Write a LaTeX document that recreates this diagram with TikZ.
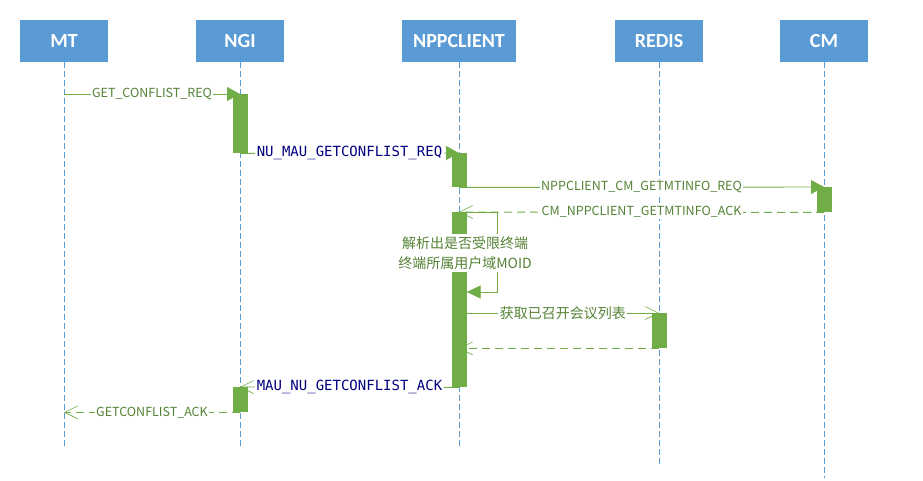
\documentclass[tikz,border=0pt]{standalone}
\usepackage{fontspec}
\usetikzlibrary{arrows.meta}
\newfontfamily\headfont{Carlito}
\newfontfamily\msgfont{Noto Sans CJK SC}
\newfontfamily\codefont{DejaVu Sans Mono}
\definecolor{headblue}{HTML}{5B9BD5}
\definecolor{bargreen}{HTML}{70AD47}
\definecolor{txtgreen}{HTML}{548235}
\definecolor{codeblue}{HTML}{000080}
\pgfdeclarelayer{back}
\pgfsetlayers{back,main}

\tikzset{
  head/.style={fill=headblue, text=white, minimum width=88pt, minimum height=42pt, inner sep=0pt,
    font=\headfont\bfseries\fontsize{20}{20}\selectfont},
  life/.style={headblue, line width=0.8pt, dash pattern=on 6pt off 3pt},
  actbar/.style={fill=bargreen, draw=none, minimum width=15pt, inner sep=0pt, anchor=north},
  msg/.style={bargreen, line width=0.9pt},
  call/.style={msg, -{Triangle[length=13pt,width=14pt]}},
  reply/.style={msg, -{Straight Barb[length=13pt,width=13pt,line width=0.6pt]}},
  ret/.style={reply, dash pattern=on 8pt off 5pt},
  lbl/.style={fill=white, inner sep=1.5pt, text=txtgreen, font=\msgfont\fontsize{12.5}{14}\selectfont},
  cjklbl/.style={lbl, font=\msgfont\fontsize{14}{20}\selectfont},
  codelbl/.style={lbl, text=codeblue, font=\codefont\fontsize{14}{16}\selectfont},
}

\begin{document}
\begin{tikzpicture}[x=1pt, y=-1pt]
  %%%%% START %%%%%
  \useasboundingbox (0,0) rectangle (923,480);

  % heads
  \node[head] (mt) at (64,41) {MT};
  \node[head] (ngi) at (240,41) {NGI};
  \node[head, minimum width=114pt] (npp) at (459,41) {NPPCLIENT};
  \node[head] (redis) at (659,41) {REDIS};
  \node[head] (cm) at (824,41) {CM};

  % activation bars
  \node[actbar, minimum height=59pt] (ngiA) at (240,94) {};
  \node[actbar, minimum height=34pt] (nppA) at (459,153) {};
  \node[actbar, minimum height=25pt] (cmA) at (824,187) {};
  \node[actbar, minimum height=175pt] (nppB) at (459,212) {};
  \node[actbar, minimum height=35pt] (redisA) at (659,313) {};
  \node[actbar, minimum height=25pt] (ngiB) at (240,387) {};

  \begin{pgfonlayer}{back}
    % lifelines
    \draw[life] (mt.south) -- (mt.south |- 0,448);
    \draw[life] (ngi.south) -- (ngi.south |- 0,448);
    \draw[life] (npp.south) -- (npp.south |- 0,448);
    \draw[life] (redis.south) -- (redis.south |- 0,466);
    \draw[life] (cm.south) -- (cm.south |- 0,478);

    % messages
    \draw[call] (mt |- ngiA.north) -- node[lbl] {GET\_CONFLIST\_REQ} (ngiA.north);
    \draw[call] (ngiA.south) -- node[codelbl] {NU\_MAU\_GETCONFLIST\_REQ} (nppA.north);
    \draw[call] (nppA.south) -- node[lbl] {NPPCLIENT\_CM\_GETMTINFO\_REQ} (cmA.north);
    \draw[ret] (cmA.south) -- node[lbl] {CM\_NPPCLIENT\_GETMTINFO\_ACK} (nppB.north);

    \coordinate (selfend) at (nppB.east |- 0,292);
    \draw[msg, -{Triangle[length=14pt,width=13pt]}] (nppB.north east) -- ++(31,0) |- (selfend);

    \draw[reply] (nppB.east |- redisA.north) -- node[cjklbl] {获取已召开会议列表} (redisA.north);
    \draw[ret] (redisA.south) -- (nppB |- redisA.south);
    \draw[reply] (nppB.south) -- node[codelbl] {MAU\_NU\_GETCONFLIST\_ACK} (ngiB.north);
    \draw[ret] (ngiB.south) -- node[lbl] {GETCONFLIST\_ACK} (mt |- ngiB.south);
  \end{pgfonlayer}

  % note over the bar
  \node[cjklbl, align=center, inner sep=2pt] (parse) at (465,253) {解析出是否受限终端\\终端所属用户域MOID};
  %%%%% END %%%%%
\end{tikzpicture}
\end{document}
